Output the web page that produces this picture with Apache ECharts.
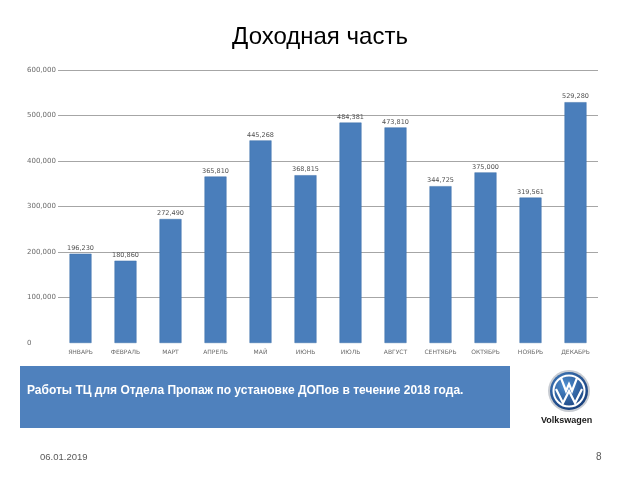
<!DOCTYPE html>
<html><head><meta charset="utf-8">
<script src="https://cdn.jsdelivr.net/npm/echarts@6/dist/echarts.min.js"></script>
<style>html,body{margin:0;padding:0;background:#fff}#c{width:640px;height:480px}</style>
</head><body><div id="c"></div>
<script>
const categories = ['ЯНВАРЬ','ФЕВРАЛЬ','МАРТ','АПРЕЛЬ','МАЙ','ИЮНЬ','ИЮЛЬ','АВГУСТ','СЕНТЯБРЬ','ОКТЯБРЬ','НОЯБРЬ','ДЕКАБРЬ'];
const values = [196230, 180860, 272490, 365810, 445268, 368815, 484381, 473810, 344725, 375000, 319561, 529280];
const titleText = 'Доходная часть';
const boxText = 'Работы ТЦ для Отдела Пропаж по установке ДОПов в течение 2018 года.';
const dateText = '06.01.2019';
const pageText = '8';

const fmt = v => v.toLocaleString('en-US');
const chart = echarts.init(document.getElementById('c'), null, {renderer:'canvas'});
chart.setOption({
  backgroundColor:'#fff',
  animation:false,
  title:{text:titleText,left:'center',top:20,textStyle:{fontFamily:'Liberation Sans, Arial',fontSize:24,fontWeight:'normal',color:'#000'}},
  grid:{left:58,right:42,top:70,bottom:137,containLabel:false},
  xAxis:{type:'category',data:categories,
    axisLine:{show:false},axisTick:{show:false},
    axisLabel:{fontSize:6,color:'#6a6a6a',margin:6,fontFamily:'DejaVu Sans',interval:0}},
  yAxis:{type:'value',min:0,max:600000,interval:100000,
    axisLine:{show:false},axisTick:{show:false},
    axisLabel:{fontSize:7,color:'#6a6a6a',margin:31,align:'left',fontFamily:'DejaVu Sans',formatter:v=>fmt(v)},
    splitLine:{show:true,showMinLine:false,lineStyle:{color:'#a6a6a6',width:1.2}}},
  series:[{type:'bar',data:values,barWidth:22,
    itemStyle:{color:'#4a7ebb',borderColor:'#3f70aa',borderWidth:0.5},
    label:{show:true,position:'top',distance:2,fontSize:6.5,color:'#505050',fontFamily:'DejaVu Sans',formatter:p=>fmt(p.value)}}],
  graphic:[
    {type:'rect',shape:{x:20,y:366,width:490,height:62},style:{fill:'#4f81bd'}},
    {type:'text',left:27,top:385,style:{text:boxText,fill:'#fff',font:'bold 12px "Liberation Sans", Arial'}},
    {type:'circle',shape:{cx:569,cy:391,r:21},style:{fill:'#c8ccd2'}},
    {type:'circle',shape:{cx:569,cy:391,r:19},style:{fill:new echarts.graphic.RadialGradient(0.4,0.35,0.8,[{offset:0,color:'#4f8fd0'},{offset:1,color:'#0d2f6b'}])}},
    {type:'circle',shape:{cx:569,cy:391,r:15.5},style:{fill:'none',stroke:'#fff',lineWidth:2}},
    {type:'polyline',shape:{points:[[561,378],[566,391],[569,384],[572,391],[577,378]]},style:{stroke:'#fff',lineWidth:2.2,fill:'none'}},
    {type:'polyline',shape:{points:[[556,389],[563,403],[569,391],[575,403],[582,389]]},style:{stroke:'#fff',lineWidth:2.2,fill:'none'}},
    {type:'text',left:541,top:416,style:{text:'Volkswagen',fill:'#1a1a1a',font:'bold 9px "Liberation Sans", Arial'}},
    {type:'text',left:40,top:452,style:{text:dateText,fill:'#595959',font:'9.5px "Liberation Sans", Arial'}},
    {type:'text',left:596,top:452,style:{text:pageText,fill:'#595959',font:'10px "Liberation Sans", Arial'}}
  ]
});
</script></body></html>
